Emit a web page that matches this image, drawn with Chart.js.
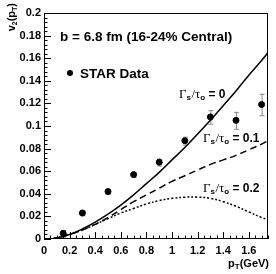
<!DOCTYPE html>
<html><head><meta charset="utf-8">
<script src="https://cdn.jsdelivr.net/npm/chart.js@4"></script>
<style>html,body{margin:0;padding:0;background:#fff}#w{width:276px;height:274px}</style>
</head><body><div id="w"><canvas id="c" width="276" height="274"></canvas></div>
<script>
// STAR data
const starPt  = [0.15, 0.30, 0.50, 0.70, 0.90, 1.10, 1.30, 1.50, 1.70];
const starV2  = [0.005, 0.023, 0.042, 0.057, 0.068, 0.087, 0.108, 0.105, 0.119];
const starErr = [0.003, 0.002, 0.002, 0.002, 0.003, 0.0035, 0.006, 0.0075, 0.0095];
// Model curves
const curvePt = [0.05, 0.1, 0.2, 0.3, 0.4, 0.5, 0.6, 0.7, 0.8, 0.9, 1.0, 1.1, 1.2, 1.3, 1.4, 1.5, 1.6, 1.7, 1.75];
const g0  = [0.000, 0.001, 0.004, 0.009, 0.015, 0.022, 0.030, 0.039, 0.049, 0.059, 0.070, 0.081, 0.093, 0.105, 0.118, 0.131, 0.145, 0.158, 0.165];
const g01 = [0.000, 0.001, 0.004, 0.008, 0.013, 0.019, 0.026, 0.033, 0.039, 0.045, 0.051, 0.056, 0.061, 0.066, 0.070, 0.074, 0.079, 0.084, 0.087];
const g02 = [0.000, 0.001, 0.004, 0.008, 0.013, 0.018, 0.023, 0.027, 0.031, 0.034, 0.036, 0.037, 0.037, 0.036, 0.033, 0.029, 0.024, 0.019, 0.017];
// Tick labels
const xTicks = [0, 0.2, 0.4, 0.6, 0.8, 1.0, 1.2, 1.4, 1.6];
const xTickLabels = ["0", "0.2", "0.4", "0.6", "0.8", "1", "1.2", "1.4", "1.6"];
const yTicks = [0, 0.02, 0.04, 0.06, 0.08, 0.10, 0.12, 0.14, 0.16, 0.18, 0.20];
const yTickLabels = ["0", "0.02", "0.04", "0.06", "0.08", "0.1", "0.12", "0.14", "0.16", "0.18", "0.2"];

const pts = (xs, ys) => xs.map((x, i) => ({x, y: ys[i]}));
const SANS = '"Liberation Sans", Arial, sans-serif';
const SERIF = '"Liberation Serif", "Times New Roman", serif';

const decor = {
  id: 'decor',
  beforeDatasetsDraw(chart) {
    const {ctx, scales: {x, y}} = chart;
    ctx.save();
    ctx.strokeStyle = '#888'; ctx.lineWidth = 1;
    starPt.forEach((p, i) => {
      const px = x.getPixelForValue(p);
      const y1 = y.getPixelForValue(starV2[i] - starErr[i]);
      const y2 = y.getPixelForValue(starV2[i] + starErr[i]);
      ctx.beginPath();
      ctx.moveTo(px + 0.5, y1); ctx.lineTo(px + 0.5, y2);
      ctx.moveTo(px - 2, y1 + 0.5); ctx.lineTo(px + 3, y1 + 0.5);
      ctx.moveTo(px - 2, y2 + 0.5); ctx.lineTo(px + 3, y2 + 0.5);
      ctx.stroke();
    });
    ctx.restore();
  },
  afterDraw(chart) {
    const {ctx, chartArea: a, scales: {x, y}} = chart;
    ctx.save();
    // frame
    ctx.strokeStyle = '#000'; ctx.lineWidth = 1;
    ctx.strokeRect(a.left + 0.5, a.top + 0.5, a.right - a.left - 1, a.bottom - a.top - 1);
    // inward ticks
    ctx.beginPath();
    for (let i = 0; i <= 50; i++) {
      const v = i * 0.004;
      const py = Math.round(y.getPixelForValue(v)) + 0.5;
      const len = (i % 5 === 0) ? 7 : 3.5;
      ctx.moveTo(a.left, py); ctx.lineTo(a.left + len, py);
    }
    for (let i = 0; i <= 35; i++) {
      const v = i * 0.05;
      const px = Math.round(x.getPixelForValue(v)) + 0.5;
      const len = (i % 4 === 0) ? 7 : 3.5;
      ctx.moveTo(px, a.bottom); ctx.lineTo(px, a.bottom - len);
    }
    ctx.stroke();

    ctx.fillStyle = '#000';
    ctx.textBaseline = 'alphabetic';
    // header
    ctx.font = 'bold 13.5px ' + SANS;
    ctx.textAlign = 'left';
    ctx.fillText('b = 6.8 fm (16-24% Central)', 60, 41);
    ctx.beginPath(); ctx.arc(70, 73, 3, 0, Math.PI * 2); ctx.fill();
    ctx.fillText('STAR Data', 80, 78);

    // gamma labels
    function gLabel(x0, yb, val) {
      let cx = x0;
      ctx.font = '13px ' + SERIF; ctx.fillText('\u0393', cx, yb); cx += ctx.measureText('\u0393').width;
      ctx.font = 'bold 8px ' + SANS; ctx.fillText('s', cx, yb + 2); cx += ctx.measureText('s').width + 0.5;
      ctx.font = '13px ' + SERIF; ctx.fillText('/\u03C4', cx, yb); cx += ctx.measureText('/\u03C4').width;
      ctx.font = 'bold 8px ' + SANS; ctx.fillText('o', cx, yb + 2); cx += ctx.measureText('o').width;
      ctx.font = 'bold 12px ' + SANS; ctx.fillText(' = ' + val, cx, yb);
    }
    gLabel(179, 98, '0');
    gLabel(203, 142, '0.1');
    gLabel(203, 192, '0.2');

    // axis titles
    ctx.font = 'bold 11px ' + SANS;
    ctx.textAlign = 'right';
    let xx = 269, yb = 267;
    ctx.fillText('(GeV)', xx, yb);
    let w = ctx.measureText('(GeV)').width;
    ctx.font = 'bold 8px ' + SANS;
    ctx.fillText('T', xx - w, yb + 2);
    w += ctx.measureText('T').width;
    ctx.font = 'bold 11px ' + SANS;
    ctx.fillText('p', xx - w, yb);
    // y title (rotated)
    ctx.translate(15, 3);
    ctx.rotate(-Math.PI / 2);
    ctx.textAlign = 'right';
    let off = 0;
    ctx.font = 'bold 11px ' + SANS;
    ctx.fillText(')', -off, 0); off += ctx.measureText(')').width;
    ctx.font = 'bold 7px ' + SANS;
    ctx.fillText('T', -off, 2); off += ctx.measureText('T').width;
    ctx.font = 'bold 11px ' + SANS;
    ctx.fillText('(p', -off, 0); off += ctx.measureText('(p').width;
    ctx.font = 'bold 7px ' + SANS;
    ctx.fillText('2', -off, 2); off += ctx.measureText('2').width;
    ctx.font = 'bold 11px ' + SANS;
    ctx.fillText('v', -off, 0);
    ctx.restore();
  }
};

new Chart(document.getElementById('c'), {
  type: 'scatter',
  data: {
    datasets: [
      {data: pts(starPt, starV2), pointRadius: 3, pointBackgroundColor: '#000', pointBorderColor: '#000', showLine: false, order: 0},
      {data: pts(curvePt, g0), showLine: true, borderColor: '#000', borderWidth: 1.5, pointRadius: 0, tension: 0.4, order: 1},
      {data: pts(curvePt, g01), showLine: true, borderColor: '#000', borderWidth: 1.5, borderDash: [7, 4], pointRadius: 0, tension: 0.4, order: 1},
      {data: pts(curvePt, g02), showLine: true, borderColor: '#000', borderWidth: 1.5, borderDash: [2, 2], pointRadius: 0, tension: 0.4, order: 1}
    ]
  },
  options: {
    responsive: false, animation: false, devicePixelRatio: 1,
    layout: {padding: {left: 0, top: 13, right: 8, bottom: 0}},
    plugins: {legend: {display: false}, tooltip: {enabled: false}},
    scales: {
      x: {
        type: 'linear', min: 0, max: 1.75,
        grid: {display: false, drawTicks: false}, border: {display: false},
        afterBuildTicks: s => { s.ticks = xTicks.map(v => ({value: v})); },
        afterFit: s => { s.height = 35; },
        ticks: {padding: 5, maxRotation: 0, autoSkip: false, color: '#000',
          font: {family: SANS, size: 11, weight: 'bold'},
          callback: (v, i) => xTickLabels[i]}
      },
      y: {
        type: 'linear', min: 0, max: 0.2,
        grid: {display: false, drawTicks: false}, border: {display: false},
        afterBuildTicks: s => { s.ticks = yTicks.map(v => ({value: v})); },
        afterFit: s => { s.width = 44; },
        ticks: {padding: 3, autoSkip: false, color: '#000',
          font: {family: SANS, size: 11, weight: 'bold'},
          callback: (v, i) => yTickLabels[i]}
      }
    }
  },
  plugins: [decor]
});
</script></body></html>
